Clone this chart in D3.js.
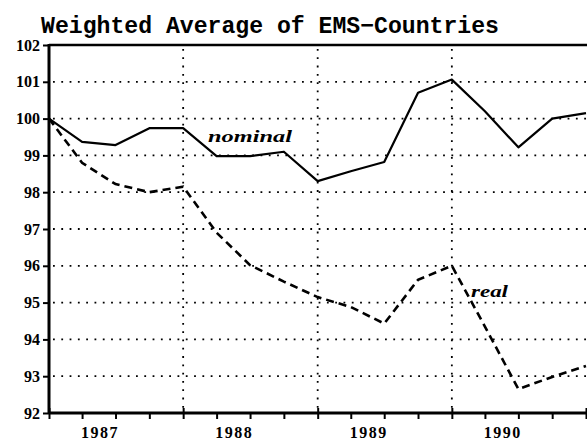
<!DOCTYPE html>
<html>
<head>
<meta charset="utf-8">
<script src="https://cdn.jsdelivr.net/npm/d3@7"></script>
<style>
  body { margin: 0; background: #fff; }
  svg { display: block; }
  .tick-lbl { font-family: "Liberation Serif", serif; font-weight: bold; font-size: 16px; fill: #000; }
</style>
</head>
<body>
<div id="chart"></div>
<script>

// quarterly observations, 1987Q1 .. 1991Q1
var quarters = ["1987-01", "1987-04", "1987-07", "1987-10",
                "1988-01", "1988-04", "1988-07", "1988-10",
                "1989-01", "1989-04", "1989-07", "1989-10",
                "1990-01", "1990-04", "1990-07", "1990-10",
                "1991-01"];

var nominal = [100.0, 99.37, 99.28, 99.74, 99.74, 98.98, 98.98, 99.1,
               98.3, 98.57, 98.82, 100.7, 101.06, 100.2, 99.22, 100.0, 100.15];

var real = [100.0, 98.8, 98.22, 98.0, 98.15, 96.9, 96.02, 95.57,
            95.15, 94.88, 94.43, 95.62, 96.0, 94.35, 92.65, 92.98, 93.28];

var yTicks = [92, 93, 94, 95, 96, 97, 98, 99, 100, 101, 102];
var yearLabels = ["1987", "1988", "1989", "1990"];
var yearLines = ["1988", "1989", "1990"];

var titleText = "Weighted Average of EMS\u2212Countries";

// set the dimensions of the graph
var W = 587, H = 442;
var plotL = 49, plotR = 586, plotT = 45, plotB = 413;

var parseMonth = d3.timeParse("%Y-%m");
var parseYear = d3.timeParse("%Y");

var x = d3.scaleTime()
    .domain([parseYear("1987"), parseYear("1991")])
    .range([plotL, plotR]);
var y = d3.scaleLinear().domain([92, 102]).range([plotB, plotT]);

var svg = d3.select("#chart").append("svg")
    .attr("width", W)
    .attr("height", H);

// title
svg.append("text")
    .attr("x", 41)
    .attr("y", 33)
    .attr("font-family", "Liberation Mono, monospace")
    .attr("font-weight", "bold")
    .attr("font-size", "23px")
    .attr("textLength", 458)
    .attr("lengthAdjust", "spacingAndGlyphs")
    .text(titleText);

// dotted grid
var dots = "1.8,6.5";
svg.append("g").selectAll("line")
    .data(yTicks.filter(function(d) { return d > 92 && d < 102; }))
    .enter().append("line")
    .attr("x1", plotL + 4).attr("x2", plotR)
    .attr("y1", function(d) { return y(d); })
    .attr("y2", function(d) { return y(d); })
    .attr("stroke", "#000")
    .attr("stroke-width", 1.8)
    .attr("stroke-dasharray", dots);

svg.append("g").selectAll("line")
    .data(yearLines)
    .enter().append("line")
    .attr("x1", function(d) { return x(parseYear(d)); })
    .attr("x2", function(d) { return x(parseYear(d)); })
    .attr("y1", plotT + 4).attr("y2", plotB)
    .attr("stroke", "#000")
    .attr("stroke-width", 1.8)
    .attr("stroke-dasharray", dots);

// axes
var yAxis = d3.axisLeft(y).tickValues(yTicks).tickSize(6).tickPadding(3);
var gy = svg.append("g")
    .attr("transform", "translate(" + plotL + ",0)")
    .call(yAxis);
gy.select(".domain").remove();
gy.selectAll(".tick line").attr("stroke-width", 2);
gy.selectAll(".tick text")
    .attr("class", "tick-lbl");
gy.attr("font-family", null).attr("font-size", null);

var qTicks = d3.timeMonth.every(3).range(parseYear("1987"), d3.timeDay.offset(parseYear("1991"), 1));
var xAxis = d3.axisBottom(x).tickValues(qTicks).tickSize(6).tickFormat("");
var gx = svg.append("g")
    .attr("transform", "translate(0," + plotB + ")")
    .call(xAxis);
gx.select(".domain").remove();
gx.selectAll(".tick line").attr("stroke-width", 2)
    .attr("y1", function(d) { return d.getMonth() === 0 ? -5 : 0; });

// year labels, set a little left of mid-year
svg.append("g").selectAll("text")
    .data(yearLabels)
    .enter().append("text")
    .attr("class", "tick-lbl")
    .attr("x", function(d) {
        var a = x(parseYear(d)), b = x(parseYear(String(+d + 1)));
        return a + (b - a) * 0.38;
    })
    .attr("y", 438)
    .attr("text-anchor", "middle")
    .attr("letter-spacing", "1.5px")
    .text(function(d) { return d; });

// frame: left and bottom axis lines, top border
svg.append("line").attr("x1", plotL).attr("x2", plotL).attr("y1", plotT - 1).attr("y2", plotB + 1)
    .attr("stroke", "#000").attr("stroke-width", 3);
svg.append("line").attr("x1", plotL).attr("x2", plotR + 1).attr("y1", plotB).attr("y2", plotB)
    .attr("stroke", "#000").attr("stroke-width", 3);
svg.append("line").attr("x1", plotL).attr("x2", plotR + 1).attr("y1", plotT).attr("y2", plotT)
    .attr("stroke", "#000").attr("stroke-width", 2.5);

// lines
var line = d3.line()
    .x(function(d, i) { return x(parseMonth(quarters[i])); })
    .y(function(d) { return y(d); });

svg.append("path")
    .datum(nominal)
    .attr("fill", "none")
    .attr("stroke", "#000")
    .attr("stroke-width", 2.2)
    .attr("stroke-linejoin", "round")
    .attr("d", line);

svg.append("path")
    .datum(real)
    .attr("fill", "none")
    .attr("stroke", "#000")
    .attr("stroke-width", 2.6)
    .attr("stroke-dasharray", "8,5")
    .attr("d", line);

// series labels
svg.append("text")
    .attr("x", 208).attr("y", 142)
    .attr("font-family", "Liberation Serif, serif")
    .attr("font-style", "italic").attr("font-weight", "bold")
    .attr("font-size", "17px")
    .attr("textLength", 84)
    .attr("lengthAdjust", "spacingAndGlyphs")
    .text("nominal");

svg.append("text")
    .attr("x", 471).attr("y", 297)
    .attr("font-family", "Liberation Serif, serif")
    .attr("font-style", "italic").attr("font-weight", "bold")
    .attr("font-size", "17px")
    .attr("textLength", 37)
    .attr("lengthAdjust", "spacingAndGlyphs")
    .text("real");

</script>
</body>
</html>
